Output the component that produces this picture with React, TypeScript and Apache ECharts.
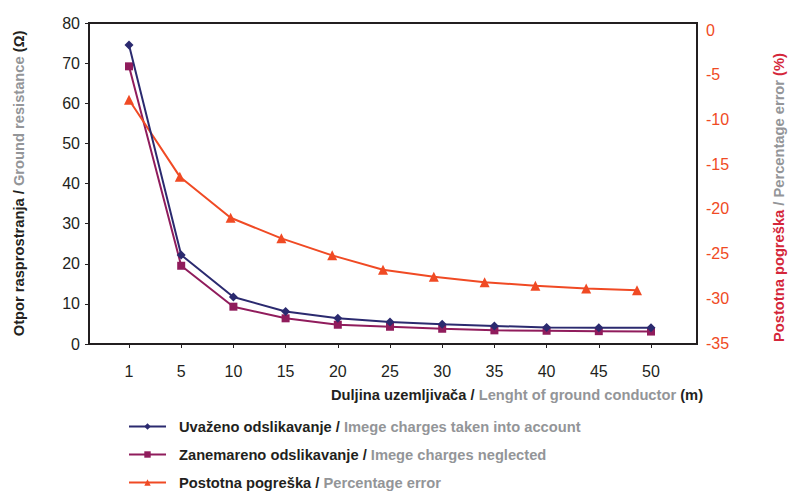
import React, { useEffect, useRef } from "react";
import * as echarts from "echarts";

const categories = ["1", "5", "10", "15", "20", "25", "30", "35", "40", "45", "50"];
const withImages = [74.5, 22.2, 11.7, 8.1, 6.4, 5.5, 4.9, 4.5, 4.1, 4.05, 4.05];
const neglected = [69.2, 19.5, 9.3, 6.4, 4.8, 4.3, 3.8, 3.4, 3.3, 3.2, 3.1];
const percentError = [-7.8, -16.4, -21.0, -23.3, -25.2, -26.8, -27.6, -28.2, -28.6, -28.9, -29.1];

const seriesNames = [
  "Uvaženo odslikavanje / Imege charges taken into account",
  "Zanemareno odslikavanje / Imege charges neglected",
  "Postotna pogreška / Percentage error",
];

const FONT = "'Liberation Sans', Arial, Helvetica, sans-serif";
const DARK = "#231f20";
const GRAY = "#939598";
const BLUE = "#2b2a6f";
const PURPLE = "#901c5c";
const ORANGE = "#f04a24";
const RED = "#d4263a";

export default function App() {
  const ref = useRef<HTMLDivElement>(null);

  useEffect(() => {
    if (!ref.current) return;
    const chart = echarts.init(ref.current, null, { renderer: "svg" });
    const bold = (color: string) => ({ fontFamily: FONT, fontSize: 14.7, fontWeight: "bold", color });
    chart.setOption({
      animation: false,
      backgroundColor: "#ffffff",
      textStyle: { fontFamily: FONT },
      grid: [
        { left: 89, right: 97, top: 23, bottom: 147, show: true, borderColor: DARK, borderWidth: 2, backgroundColor: "transparent" },
        { left: 129, right: 143, top: 23, bottom: 147 },
        { left: 129, right: 143, top: 30, bottom: 148 },
      ],
      xAxis: [
        { gridIndex: 0, type: "value", show: false },
        {
          gridIndex: 1,
          type: "category",
          data: categories,
          boundaryGap: false,
          axisLine: { show: false },
          axisTick: { show: true, length: 4, lineStyle: { color: DARK, width: 1 } },
          axisLabel: { fontSize: 16, color: DARK, margin: 19, fontFamily: FONT },
          splitLine: { show: false },
          name: "{a|Duljina uzemljivača / }{b|Lenght of ground conductor }{a|(m)}",
          nameLocation: "middle",
          nameGap: 43,
          nameTextStyle: { padding: [0, 0, 0, 254], rich: { a: bold(DARK), b: bold(GRAY) } },
        },
        { gridIndex: 2, type: "category", data: categories, boundaryGap: false, show: false },
      ],
      yAxis: [
        { gridIndex: 0, type: "value", show: false },
        {
          gridIndex: 1,
          type: "value",
          position: "left",
          offset: 40,
          min: 0,
          max: 80,
          interval: 10,
          axisLine: { show: false },
          axisTick: { show: true, length: 4, lineStyle: { color: DARK, width: 1 } },
          axisLabel: { fontSize: 16, color: DARK, margin: 9, fontFamily: FONT },
          splitLine: { show: false },
          name: "{a|Otpor rasprostranja / }{b|Ground resistance }{a|(Ω)}",
          nameLocation: "middle",
          nameRotate: 90,
          nameGap: 63,
          nameTextStyle: { rich: { a: bold(DARK), b: bold(GRAY) } },
        },
        {
          gridIndex: 2,
          type: "value",
          position: "right",
          offset: 46,
          min: -35,
          max: 0,
          interval: 5,
          axisLine: { show: false },
          axisTick: { show: false },
          axisLabel: { fontSize: 16, color: ORANGE, margin: 23, fontFamily: FONT },
          splitLine: { show: false },
          name: "{a|Postotna pogreška }{b|/ Percentage error }{a|(%)}",
          nameLocation: "middle",
          nameRotate: 90,
          nameGap: 88,
          nameTextStyle: { padding: [0, 22, 0, 0], rich: { a: bold(RED), b: bold(GRAY) } },
        },
      ],
      legend: {
        orient: "vertical",
        left: 128,
        top: 419,
        padding: 0,
        itemWidth: 37,
        itemHeight: 8,
        itemGap: 13,
        data: seriesNames,
        formatter: (name: string) => {
          const i = name.indexOf(" / ");
          return `{a|${name.slice(0, i)} / }{b|${name.slice(i + 3)}}`;
        },
        textStyle: { padding: [0, 0, 0, 8], rich: { a: bold(DARK), b: bold(GRAY) } },
      },
      series: [
        {
          name: seriesNames[0],
          type: "line",
          xAxisIndex: 1,
          yAxisIndex: 1,
          data: withImages,
          symbol: "diamond",
          symbolSize: 9,
          lineStyle: { color: BLUE, width: 2 },
          itemStyle: { color: BLUE },
          z: 3,
        },
        {
          name: seriesNames[1],
          type: "line",
          xAxisIndex: 1,
          yAxisIndex: 1,
          data: neglected,
          symbol: "rect",
          symbolSize: 8,
          lineStyle: { color: PURPLE, width: 2 },
          itemStyle: { color: PURPLE },
          z: 2,
        },
        {
          name: seriesNames[2],
          type: "line",
          xAxisIndex: 2,
          yAxisIndex: 2,
          data: percentError,
          symbol: "triangle",
          symbolSize: 10,
          lineStyle: { color: ORANGE, width: 2 },
          itemStyle: { color: ORANGE },
          z: 2,
        },
      ],
    });
    return () => chart.dispose();
  }, []);

  return <div ref={ref} style={{ position: "fixed", left: 0, top: 0, width: 794, height: 491 }} />;
}
